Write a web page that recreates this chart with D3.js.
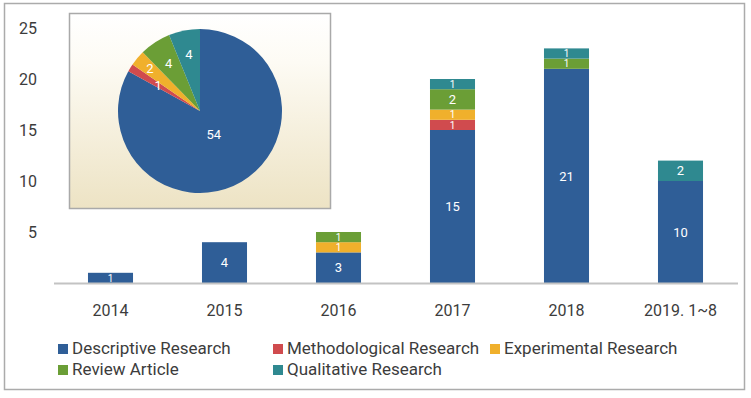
<!DOCTYPE html>
<html>
    <head>
        <title>Research Type by Year</title>
        <script src="https://d3js.org/d3.v7.min.js"></script>
        <style>
            body { margin: 0; background: #fff; }
            svg { display: block; font-family: Roboto, "Noto Sans", sans-serif; }
        </style>
    </head>
    <body>
        <script>
            // data
            const years = ['2014', '2015', '2016', '2017', '2018', '2019. 1~8']
            const seriesNames = ['Descriptive Research', 'Methodological Research', 'Experimental Research', 'Review Article', 'Qualitative Research']
            const descriptive = [1, 4, 3, 15, 21, 10]
            const methodological = [0, 0, 0, 1, 0, 0]
            const experimental = [0, 0, 1, 1, 0, 0]
            const review = [0, 0, 1, 2, 1, 0]
            const qualitative = [0, 0, 0, 1, 1, 2]
            const yTicks = [5, 10, 15, 20, 25]
            const colors = ['#2f5e97', '#d04b4e', '#f0b02c', '#6b9e36', '#2f8990']

            const seriesValues = [descriptive, methodological, experimental, review, qualitative]

            const svg = d3.select('body').append('svg')
                .attr('width', 751)
                .attr('height', 398)

            // outer frame
            svg.append('rect')
                .attr('x', 4.5).attr('y', 3.5)
                .attr('width', 740).attr('height', 386)
                .attr('fill', '#fff')
                .attr('stroke', '#ababab').attr('stroke-width', 1.5)

            const rows = years.map((yr, i) => {
                const r = { year: yr }
                seriesNames.forEach((s, j) => { r[s] = seriesValues[j][i] })
                return r
            })

            const xScale = d3.scaleBand().domain(years)
                .range([53.5, 737.5])
                .paddingInner(0.605).paddingOuter(0.3025)
            const yScale = d3.scaleLinear().domain([0, 25]).range([283, 28])
            const color = d3.scaleOrdinal().domain(seriesNames).range(colors)

            // y axis labels only
            const yAxis = d3.axisLeft(yScale).tickValues(yTicks).tickSize(0).tickPadding(3)
            const yG = svg.append('g').attr('transform', 'translate(40, 0)').call(yAxis)
            yG.select('.domain').remove()
            yG.selectAll('text')
                .attr('font-size', 16)
                .attr('font-family', 'Roboto, sans-serif')
                .attr('fill', '#3c3c3c')

            // stacked bars
            const stacked = d3.stack().keys(seriesNames)(rows)

            const layer = svg.append('g').selectAll('.layer')
                .data(stacked).enter()
                .append('g')
                    .attr('class', 'layer')
                    .attr('fill', d => color(d.key))

            layer.selectAll('rect')
                .data(d => d.filter(p => p[1] > p[0])).enter()
                .append('rect')
                    .attr('x', d => xScale(d.data.year))
                    .attr('y', d => yScale(d[1]))
                    .attr('width', xScale.bandwidth())
                    .attr('height', d => yScale(d[0]) - yScale(d[1]))

            layer.selectAll('text')
                .data(d => d.filter(p => p[1] > p[0])).enter()
                .append('text')
                    .attr('x', d => xScale(d.data.year) + xScale.bandwidth() / 2)
                    .attr('y', d => (yScale(d[0]) + yScale(d[1])) / 2)
                    .attr('dy', '0.36em')
                    .attr('text-anchor', 'middle')
                    .attr('fill', '#fff')
                    .attr('font-size', d => (d[1] - d[0]) < 2 ? 10 : 13)
                    .text(d => d[1] - d[0])

            // x axis with grey baseline
            const xAxis = d3.axisBottom(xScale).tickSize(0).tickSizeOuter(0).tickPadding(22)
            const xG = svg.append('g').attr('transform', 'translate(0, 283)').call(xAxis)
            xG.select('.domain').attr('stroke', '#c3c3c3').attr('stroke-width', 2)
            xG.selectAll('text')
                .attr('font-size', 16)
                .attr('font-family', 'Roboto, sans-serif')
                .attr('fill', '#3c3c3c')

            // pie inset
            const grad = svg.append('defs').append('linearGradient')
                .attr('id', 'pieBg').attr('x1', 0).attr('y1', 0).attr('x2', 0).attr('y2', 1)
            grad.append('stop').attr('offset', '0%').attr('stop-color', '#ffffff')
            grad.append('stop').attr('offset', '25%').attr('stop-color', '#fdfbf4')
            grad.append('stop').attr('offset', '100%').attr('stop-color', '#ede3c4')

            svg.append('rect')
                .attr('x', 69.5).attr('y', 13.5)
                .attr('width', 261).attr('height', 195)
                .attr('fill', 'url(#pieBg)')
                .attr('stroke', '#a9a9a9').attr('stroke-width', 1.5)

            const totals = seriesNames.map((s, j) => ({ name: s, value: d3.sum(seriesValues[j]) }))
            const radius = 82
            const pie = d3.pie().sort(null).value(d => d.value)
            const arc = d3.arc().innerRadius(0).outerRadius(radius)

            const pg = svg.append('g').attr('transform', 'translate(200, 111)')
            const slices = pie(totals)
            pg.selectAll('path')
                .data(slices).enter()
                .append('path')
                    .attr('d', arc)
                    .attr('fill', d => color(d.data.name))

            // label radius like a "best fit" placement
            const labelRadius = v => v > 30 ? radius * 0.33 : v < 2 ? radius * 0.6 : v < 3 ? radius * 0.8 : radius * 0.7

            pg.selectAll('text')
                .data(slices).enter()
                .append('text')
                    .attr('transform', d => {
                        const lr = labelRadius(d.value)
                        const c = d3.arc().innerRadius(lr).outerRadius(lr).centroid(d)
                        return `translate(${c[0]}, ${c[1]})`
                    })
                    .attr('dy', '0.36em')
                    .attr('text-anchor', 'middle')
                    .attr('fill', '#fff')
                    .attr('font-size', 13)
                    .text(d => d.value)

            // legend, two rows
            const legendCols = [58, 273, 490]
            const legend = svg.append('g').selectAll('.legend')
                .data(seriesNames).enter()
                .append('g')
                    .attr('class', 'legend')
                    .attr('transform', (d, i) => `translate(${legendCols[i % 3]}, ${348 + Math.floor(i / 3) * 21})`)

            legend.append('rect')
                .attr('x', 0).attr('y', -4)
                .attr('width', 10).attr('height', 10)
                .attr('fill', d => color(d))

            legend.append('text')
                .attr('x', 14).attr('y', 0)
                .attr('dy', '0.33em')
                .attr('font-size', 17)
                .attr('fill', '#3c3c3c')
                .text(d => d)
        </script>
    </body>
</html>
